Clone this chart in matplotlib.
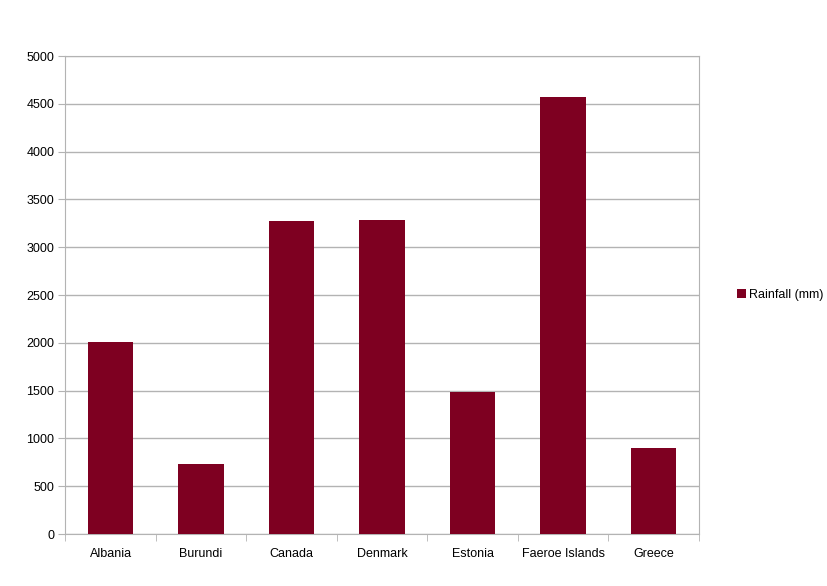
import numpy as np
import matplotlib.pyplot as plt

countries = ["Albania", "Burundi", "Canada", "Denmark", "Estonia", "Faeroe Islands", "Greece"]
rainfall = [2010, 728, 3272, 3282, 1490, 4576, 903]

plt.rcParams['font.family'] = ['Liberation Sans', 'DejaVu Sans']
grey = "#b3b3b3"

fig = plt.figure(figsize=(8.27, 5.86), dpi=100)
ax = fig.add_axes([0.079, 0.0887, 0.766, 0.8157])

x = np.arange(len(countries))
ax.bar(x, rainfall, width=0.5, color="#7e0021", label="Rainfall (mm)", zorder=3)

ax.set_xlim(-0.5, len(countries) - 0.5)
ax.set_ylim(0, 5000)
ax.set_yticks(np.arange(0, 5001, 500))
ax.yaxis.grid(True, color=grey, linewidth=1, zorder=0)
ax.set_axisbelow(True)

# category labels centred, tick marks on the boundaries
ax.set_xticks(x)
ax.set_xticklabels(countries)
ax.set_xticks(np.arange(-0.5, len(countries)), minor=True)
ax.tick_params(axis='x', which='major', length=0, pad=10, labelsize=9)
ax.tick_params(axis='x', which='minor', length=5, color=grey)
ax.tick_params(axis='y', length=5, color=grey, pad=3, labelsize=9)

for s in ax.spines.values():
    s.set_color(grey)

ax.legend(loc='center left', bbox_to_anchor=(1.06, 0.5), frameon=False,
          fontsize=9, handlelength=0.7, handleheight=0.7, handletextpad=0.3,
          borderaxespad=0, borderpad=0)

fig.savefig("out.png", dpi=100)
